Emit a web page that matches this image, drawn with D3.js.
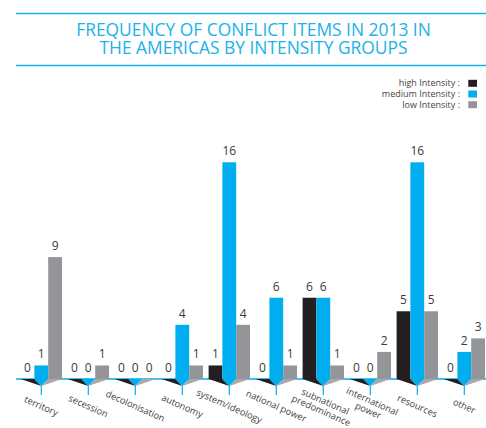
<!DOCTYPE html>
<html>
<head>
<meta charset="utf-8">
<script src="https://cdn.jsdelivr.net/npm/d3@7"></script>
<style>
  html, body { margin: 0; padding: 0; background: #ffffff; }
  svg { display: block; }
  text { font-family: "Open Sans", sans-serif; }
</style>
</head>
<body>
<svg id="chart" width="486" height="428"></svg>
<script>
// Conflict items per category, split by intensity group
const categories = ["territory", "secession", "decolonisation", "autonomy", "system/ideology",
  "national power", "subnational predominance", "international power", "resources", "other"];
const categoryLabels = [["territory"], ["secession"], ["decolonisation"], ["autonomy"], ["system/ideology"],
  ["national  power"], ["subnational", "predominance"], ["international", "power"], ["resources"], ["other"]];
const seriesNames = ["high Intensity :", "medium Intensity :", "low Intensity :"];
const highIntensity = [0, 0, 0, 0, 1, 0, 6, 0, 5, 0];
const mediumIntensity = [1, 0, 0, 4, 16, 6, 6, 0, 16, 2];
const lowIntensity = [9, 1, 0, 1, 4, 1, 1, 2, 5, 3];
const titleLines = ["FREQUENCY OF CONFLICT ITEMS IN 2013 IN", "THE AMERICAS BY INTENSITY GROUPS"];

const colors = ["#231f20", "#00aeef", "#939598"];
const wedgeColors = ["#231f20", "#00aeef", "#a7a9ac"];
const blue = "#00aeef";
const titleBlue = "#1bb1e9";

const svg = d3.select("#chart");
const W = 486;
const baseY = 379;
const barW = 13.8;

const x0 = d3.scaleBand().domain(categories).range([17.8, 487.8]).padding(0);
const x1 = d3.scaleBand().domain(seriesNames)
  .range([(x0.bandwidth() - 3 * barW) / 2, (x0.bandwidth() + 3 * barW) / 2]).padding(0);
const y = d3.scaleLinear().domain([0, 16]).range([baseY, 162.3]);

const rows = categories.map((c, i) => ({
  cat: c,
  label: categoryLabels[i],
  values: [highIntensity[i], mediumIntensity[i], lowIntensity[i]]
}));

// Title with rules above and below
svg.append("line").attr("x1", 16).attr("x2", W).attr("y1", 13.5).attr("y2", 13.5)
  .attr("stroke", titleBlue).attr("stroke-width", 1.6);
svg.append("line").attr("x1", 16).attr("x2", W).attr("y1", 65.5).attr("y2", 65.5)
  .attr("stroke", titleBlue).attr("stroke-width", 1.6);
svg.selectAll("text.title").data(titleLines).join("text")
  .attr("class", "title")
  .attr("x", 253.5)
  .attr("y", (d, i) => 35.7 + i * 18.3)
  .attr("text-anchor", "middle")
  .attr("fill", titleBlue)
  .attr("font-size", 17.4)
  .text(d => d);

// Legend
const legend = svg.append("g");
seriesNames.forEach((s, i) => {
  const ly = 83.3 + i * 10.7;
  legend.append("text").attr("x", 460).attr("y", ly).attr("dy", "0.35em")
    .attr("text-anchor", "end").attr("font-size", 9).attr("fill", "#444")
    .text(s);
  legend.append("rect").attr("x", 468.3).attr("y", ly - 3.5).attr("width", 8.7).attr("height", 7)
    .attr("fill", colors[i]);
});

// Baseline
svg.append("line").attr("x1", 16).attr("x2", W).attr("y1", baseY).attr("y2", baseY)
  .attr("stroke", blue).attr("stroke-width", 1.4);

const groups = svg.selectAll("g.cat").data(rows).join("g")
  .attr("class", "cat")
  .attr("transform", d => `translate(${x0(d.cat)},0)`);

// Folded wedges under each group, meeting at the group's centre tick
groups.each(function (d) {
  const g = d3.select(this);
  const cx = x1(seriesNames[1]) + barW / 2;
  const tipY = baseY + 7;
  seriesNames.forEach((s, i) => {
    const l = x1(s), r = x1(s) + barW;
    g.append("path")
      .attr("d", `M${l},${baseY}L${r},${baseY}L${cx},${tipY}Z`)
      .attr("fill", wedgeColors[i]);
  });
  g.append("line").attr("x1", cx).attr("x2", cx).attr("y1", tipY).attr("y2", baseY + 16)
    .attr("stroke", blue).attr("stroke-width", 1.2);
});

// Bars
groups.selectAll("rect.bar").data(d => d.values.map((v, i) => ({ v, s: seriesNames[i], i })))
  .join("rect")
  .attr("class", "bar")
  .attr("x", d => x1(d.s))
  .attr("width", barW)
  .attr("y", d => y(d.v))
  .attr("height", d => baseY - y(d.v))
  .attr("fill", d => colors[d.i]);

// Value labels
groups.selectAll("text.val").data(d => d.values.map((v, i) => ({ v, s: seriesNames[i] })))
  .join("text")
  .attr("class", "val")
  .attr("x", d => x1(d.s) + barW / 2)
  .attr("y", d => y(d.v) - 7)
  .attr("text-anchor", "middle")
  .attr("font-size", 12)
  .attr("fill", "#3a3a3a")
  .text(d => d.v);

// Rotated category labels
groups.append("text")
  .attr("transform", d => `translate(${x1(seriesNames[1]) + barW / 2},406) rotate(24)`)
  .attr("text-anchor", "middle")
  .attr("font-size", 9.3)
  .attr("fill", "#444")
  .each(function (d) {
    const t = d3.select(this);
    const n = d.label.length;
    d.label.forEach((line, k) => {
      t.append("tspan").attr("x", 0)
        .attr("y", (k - (n - 1) / 2) * 10)
        .attr("dy", "0.35em")
        .text(line);
    });
  });
</script>
</body>
</html>
